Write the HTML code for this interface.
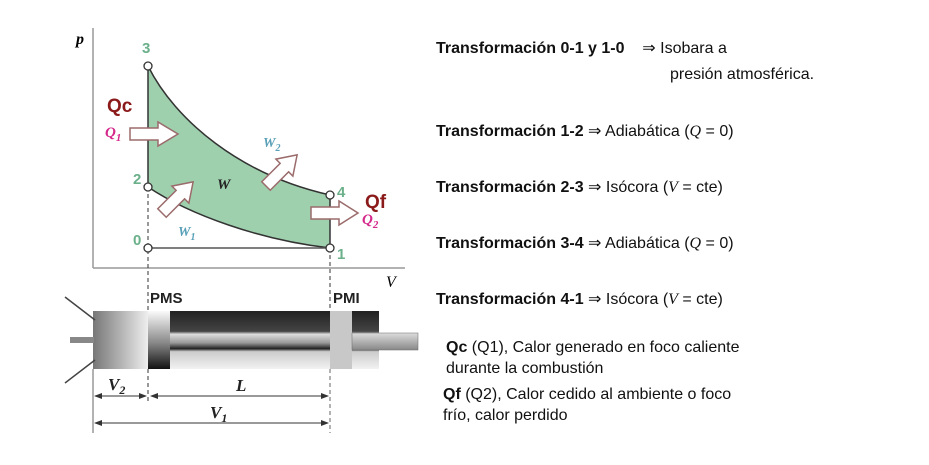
<!DOCTYPE html>
<html><head><meta charset="utf-8"><style>
body{margin:0;width:929px;height:465px;background:#fff;overflow:hidden;position:relative;font-family:"Liberation Sans",sans-serif}
.t{position:absolute;font-size:16px;color:#111;white-space:nowrap}
.t b{font-weight:bold}
.s{font-family:"Liberation Serif",serif;font-style:italic}
</style></head><body>
<svg width="929" height="465" style="position:absolute;left:0;top:0">
<defs>
<linearGradient id="hd" x1="0" x2="1"><stop offset="0" stop-color="#777"/><stop offset="1" stop-color="#eee"/></linearGradient>
<linearGradient id="pst" x1="0" y1="0" x2="0" y2="1"><stop offset="0" stop-color="#fafafa"/><stop offset="0.55" stop-color="#888"/><stop offset="1" stop-color="#111"/></linearGradient>
<linearGradient id="bore" x1="0" y1="0" x2="0" y2="1"><stop offset="0" stop-color="#222"/><stop offset="0.35" stop-color="#444"/><stop offset="0.4" stop-color="#ddd"/><stop offset="0.55" stop-color="#999"/><stop offset="0.65" stop-color="#222"/><stop offset="0.7" stop-color="#ccc"/><stop offset="1" stop-color="#f2f2f2"/></linearGradient>
<linearGradient id="rod" x1="0" y1="0" x2="0" y2="1"><stop offset="0" stop-color="#ddd"/><stop offset="1" stop-color="#888"/></linearGradient>
<marker id="a" markerWidth="8" markerHeight="6" refX="7" refY="3" orient="auto-start-reverse"><path d="M0,0L8,3L0,6z" fill="#333"/></marker>
</defs>
<line x1="93" y1="28" x2="93" y2="268" stroke="#999" stroke-width="1.5"/>
<line x1="93" y1="268" x2="405" y2="268" stroke="#999" stroke-width="1.5"/>
<text x="76" y="44" font-family="Liberation Serif" font-style="italic" font-weight="bold" font-size="16">p</text>
<text x="386" y="287" font-family="Liberation Serif" font-style="italic" font-size="16">V</text>
<path d="M148,66 C175,120 240,175 330,195 L330,248 C260,240 190,215 148,187 Z" fill="#9fd0ae" stroke="#333" stroke-width="1.5"/>
<line x1="148" y1="248" x2="330" y2="248" stroke="#555" stroke-width="1.5"/>
<line x1="148" y1="187" x2="148" y2="310" stroke="#333" stroke-dasharray="4,3"/>
<line x1="330" y1="248" x2="330" y2="310" stroke="#333" stroke-dasharray="4,3"/>
<g fill="#fff" stroke="#333" stroke-width="1.3">
<circle cx="148" cy="66" r="4"/><circle cx="148" cy="187" r="4"/><circle cx="148" cy="248" r="4"/><circle cx="330" cy="248" r="4"/><circle cx="330" cy="195" r="4"/></g>
<g font-family="Liberation Sans" font-weight="bold" font-size="15" fill="#6bb08a">
<text x="142" y="53">3</text><text x="133" y="184">2</text><text x="133" y="245">0</text><text x="337" y="259">1</text><text x="337" y="197">4</text></g>
<g fill="#fff" stroke="#9b6b6b" stroke-width="1.5">
<path d="M130,128 L158,128 L158,122 L178,134 L158,146 L158,140 L130,140 Z"/>
<path d="M311,207 L339,207 L339,201 L358,213 L339,225 L339,219 L311,219 Z"/>
<path d="M0,-6 L26,-6 L26,-12 L44,0 L26,12 L26,6 L0,6 Z" transform="translate(162,213) rotate(-45)"/>
<path d="M0,-6 L26,-6 L26,-12 L44,0 L26,12 L26,6 L0,6 Z" transform="translate(266,186) rotate(-45)"/>
</g>
<g font-family="Liberation Serif" font-style="italic" font-weight="bold">
<text x="105" y="137" fill="#d4288a" font-size="15">Q<tspan font-size="11" dy="4">1</tspan></text>
<text x="362" y="224" fill="#d4288a" font-size="15">Q<tspan font-size="11" dy="4">2</tspan></text>
<text x="263" y="147" fill="#5aa0b8" font-size="14">W<tspan font-size="10" dy="4">2</tspan></text>
<text x="178" y="236" fill="#5aa0b8" font-size="14">W<tspan font-size="10" dy="4">1</tspan></text>
<text x="217" y="189" fill="#222" font-size="15">W</text></g>
<text x="107" y="112" font-family="Liberation Sans" font-weight="bold" font-size="19" fill="#8b1a1a">Qc</text>
<text x="365" y="208" font-family="Liberation Sans" font-weight="bold" font-size="19" fill="#8b1a1a">Qf</text>
<text x="150" y="303" font-family="Liberation Sans" font-weight="bold" font-size="15" fill="#222">PMS</text>
<text x="333" y="303" font-family="Liberation Sans" font-weight="bold" font-size="15" fill="#222">PMI</text>
<rect x="93" y="311" width="55" height="58" fill="url(#hd)"/>
<rect x="170" y="311" width="160" height="58" fill="url(#bore)"/>
<rect x="148" y="311" width="22" height="58" fill="url(#pst)"/>
<rect x="352" y="311" width="27" height="58" fill="url(#bore)"/>
<rect x="330" y="311" width="22" height="58" fill="#c8c8c8"/>
<rect x="352" y="333" width="66" height="17" fill="url(#rod)" stroke="#666" stroke-width="0.5"/>
<line x1="65" y1="297" x2="95" y2="320" stroke="#444" stroke-width="1.5"/>
<line x1="65" y1="383" x2="95" y2="360" stroke="#444" stroke-width="1.5"/>
<rect x="70" y="337" width="24" height="6" fill="#888"/>
<line x1="148" y1="369" x2="148" y2="402" stroke="#333" stroke-dasharray="4,3"/>
<line x1="93" y1="369" x2="93" y2="433" stroke="#666"/>
<line x1="330" y1="369" x2="330" y2="433" stroke="#666" stroke-dasharray="4,3"/>
<line x1="95" y1="396" x2="146" y2="396" stroke="#333" marker-start="url(#a)" marker-end="url(#a)"/>
<line x1="151" y1="396" x2="328" y2="396" stroke="#333" marker-start="url(#a)" marker-end="url(#a)"/>
<line x1="95" y1="423" x2="328" y2="423" stroke="#333" marker-start="url(#a)" marker-end="url(#a)"/>
<g font-family="Liberation Serif" font-style="italic" font-weight="bold" font-size="17" fill="#222">
<text x="108" y="390">V<tspan font-size="12" dy="4">2</tspan></text>
<text x="236" y="391">L</text>
<text x="210" y="418">V<tspan font-size="12" dy="4">1</tspan></text></g>
</svg>
<div class="t" style="left:436px;top:38px"><b>Transformación 0-1 y 1-0</b> &nbsp;&nbsp; ⇒ Isobara a</div>
<div class="t" style="left:670px;top:66px">presión atmosférica.</div>
<div class="t" style="left:436px;top:121px"><b>Transformación 1-2</b> ⇒ Adiabática (<span class="s">Q</span> = 0)</div>
<div class="t" style="left:436px;top:177px"><b>Transformación 2-3</b> ⇒ Isócora (<span class="s">V</span> = cte)</div>
<div class="t" style="left:436px;top:233px"><b>Transformación 3-4</b> ⇒ Adiabática (<span class="s">Q</span> = 0)</div>
<div class="t" style="left:436px;top:289px"><b>Transformación 4-1</b> ⇒ Isócora (<span class="s">V</span> = cte)</div>
<div class="t" style="left:446px;top:337px;line-height:21px"><b>Qc</b> (Q1), Calor generado en foco caliente<br>durante la combustión</div>
<div class="t" style="left:443px;top:384px;line-height:21px"><b>Qf</b> (Q2), Calor cedido al ambiente o foco<br>frío, calor perdido</div>
</body></html>
